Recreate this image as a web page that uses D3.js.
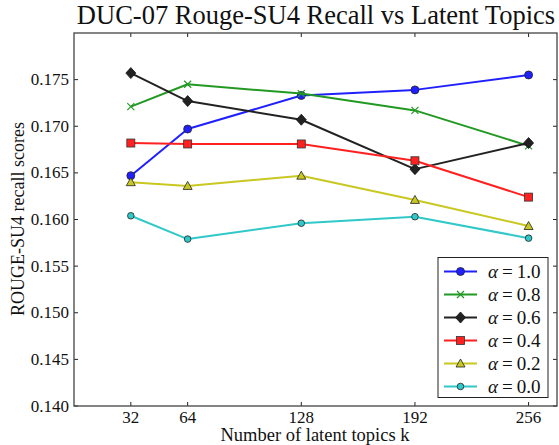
<!DOCTYPE html>
<html><head><meta charset="utf-8">
<script src="https://cdn.jsdelivr.net/npm/d3@7"></script>
<style>body{margin:0;background:#fff}svg{display:block}text{font-family:"Liberation Serif","DejaVu Serif",serif;fill:#111}</style>
</head><body>
<script>
const topics = [32, 64, 128, 192, 256];
const xTicks = [32, 64, 128, 192, 256];
const yTicks = [0.140, 0.145, 0.150, 0.155, 0.160, 0.165, 0.170, 0.175];
const seriesNames = ["α = 1.0", "α = 0.8", "α = 0.6", "α = 0.4", "α = 0.2", "α = 0.0"];
const alpha10 = [0.1647, 0.1697, 0.1733, 0.1739, 0.1755];
const alpha08 = [0.1721, 0.1745, 0.1735, 0.1717, 0.1679];
const alpha06 = [0.1757, 0.1727, 0.1707, 0.1654, 0.1682];
const alpha04 = [0.1682, 0.1681, 0.1681, 0.1663, 0.1624];
const alpha02 = [0.1640, 0.1636, 0.1647, 0.1621, 0.1593];
const alpha00 = [0.1604, 0.1579, 0.1596, 0.1603, 0.1580];
const seriesValues = [alpha10, alpha08, alpha06, alpha04, alpha02, alpha00];
const colors = ["#2020ff", "#229922", "#222222", "#ff2020", "#c8c820", "#30c8c8"];
const markers = ["circle", "x", "diamond", "square", "triangle", "smallcircle"];

const W = 559, H = 445;
const m = {left: 74, right: 2, top: 33, bottom: 39};
const svg = d3.select("body").append("svg").attr("width", W).attr("height", H);
const x = d3.scaleLinear().domain([0, 272]).range([m.left, W - m.right]);
const y = d3.scaleLinear().domain([0.140, 0.180]).range([H - m.bottom, m.top]);

const tl = 4;
const g = svg.append("g");
xTicks.forEach(t => {
  g.append("line").attr("x1", x(t)).attr("x2", x(t)).attr("y1", y.range()[0]).attr("y2", y.range()[0] - tl).attr("stroke", "#222");
  g.append("line").attr("x1", x(t)).attr("x2", x(t)).attr("y1", y.range()[1]).attr("y2", y.range()[1] + tl).attr("stroke", "#222");
  g.append("text").attr("x", x(t)).attr("y", y.range()[0] + 16.5).attr("text-anchor", "middle").attr("font-size", 17).text(t);
});
yTicks.forEach(t => {
  g.append("line").attr("x1", x.range()[0]).attr("x2", x.range()[0] + tl).attr("y1", y(t)).attr("y2", y(t)).attr("stroke", "#222");
  g.append("line").attr("x1", x.range()[1]).attr("x2", x.range()[1] - tl).attr("y1", y(t)).attr("y2", y(t)).attr("stroke", "#222");
  g.append("text").attr("x", x.range()[0] - 5).attr("y", y(t) + 5.5).attr("text-anchor", "end").attr("font-size", 17).text(d3.format(".3f")(t));
});

function drawMarker(sel, type, cx, cy, color) {
  if (type === "circle") sel.append("circle").attr("cx", cx).attr("cy", cy).attr("r", 4).attr("fill", color).attr("stroke", "#222").attr("stroke-width", 0.8);
  else if (type === "smallcircle") sel.append("circle").attr("cx", cx).attr("cy", cy).attr("r", 3.3).attr("fill", color).attr("stroke", "#222").attr("stroke-width", 0.8);
  else if (type === "x") sel.append("path").attr("d", `M${cx-3.5},${cy-3.5}L${cx+3.5},${cy+3.5}M${cx-3.5},${cy+3.5}L${cx+3.5},${cy-3.5}`).attr("stroke", color).attr("stroke-width", 1.2).attr("fill", "none");
  else if (type === "diamond") sel.append("path").attr("d", `M${cx},${cy-5.5}L${cx+5},${cy}L${cx},${cy+5.5}L${cx-5},${cy}Z`).attr("fill", color).attr("stroke", "#111").attr("stroke-width", 0.8);
  else if (type === "square") sel.append("rect").attr("x", cx-4).attr("y", cy-4).attr("width", 8).attr("height", 8).attr("fill", color).attr("stroke", "#333").attr("stroke-width", 0.8);
  else if (type === "triangle") sel.append("path").attr("d", `M${cx},${cy-4.5}L${cx+4.5},${cy+3.5}L${cx-4.5},${cy+3.5}Z`).attr("fill", color).attr("stroke", "#222").attr("stroke-width", 0.8);
}

const line = d3.line().x((d, i) => x(topics[i])).y(d => y(d));
seriesValues.forEach((vals, si) => {
  const sg = svg.append("g");
  sg.append("path").datum(vals).attr("d", line).attr("fill", "none").attr("stroke", colors[si]).attr("stroke-width", 2).attr("stroke-linejoin", "round");
  vals.forEach((v, i) => drawMarker(sg, markers[si], x(topics[i]), y(v), colors[si]));
});

svg.append("rect").attr("x", x.range()[0]).attr("y", y.range()[1]).attr("width", x.range()[1] - x.range()[0]).attr("height", y.range()[0] - y.range()[1])
  .attr("fill", "none").attr("stroke", "#444").attr("stroke-width", 1.3);

const lg = svg.append("g");
const lx = 438, ly = 257.5, lw = 110, lh = 140;
lg.append("rect").attr("x", lx).attr("y", ly).attr("width", lw).attr("height", lh).attr("fill", "#fff").attr("stroke", "#222").attr("stroke-width", 1);
seriesNames.forEach((nm, i) => {
  const ry = 271.5 + i * 23;
  lg.append("line").attr("x1", 444).attr("x2", 477).attr("y1", ry).attr("y2", ry).attr("stroke", colors[i]).attr("stroke-width", 2);
  drawMarker(lg, markers[i], 460.5, ry, colors[i]);
  const t = lg.append("text").attr("x", 488).attr("y", ry + 6).attr("font-size", 19);
  t.append("tspan").attr("font-style", "italic").text("α");
  t.append("tspan").attr("dx", 4).text("=");
  t.append("tspan").attr("dx", 4).text(nm.split("= ")[1]);
});

svg.append("text").attr("x", 316).attr("y", 24).attr("text-anchor", "middle").attr("font-size", 26.5).text("DUC-07 Rouge-SU4 Recall vs Latent Topics");
svg.append("text").attr("x", 315).attr("y", 441).attr("text-anchor", "middle").attr("font-size", 18.5).text("Number of latent topics k");
svg.append("text").attr("transform", "translate(24,219) rotate(-90)").attr("text-anchor", "middle").attr("font-size", 18).text("ROUGE-SU4 recall scores");
</script>
</body></html>
